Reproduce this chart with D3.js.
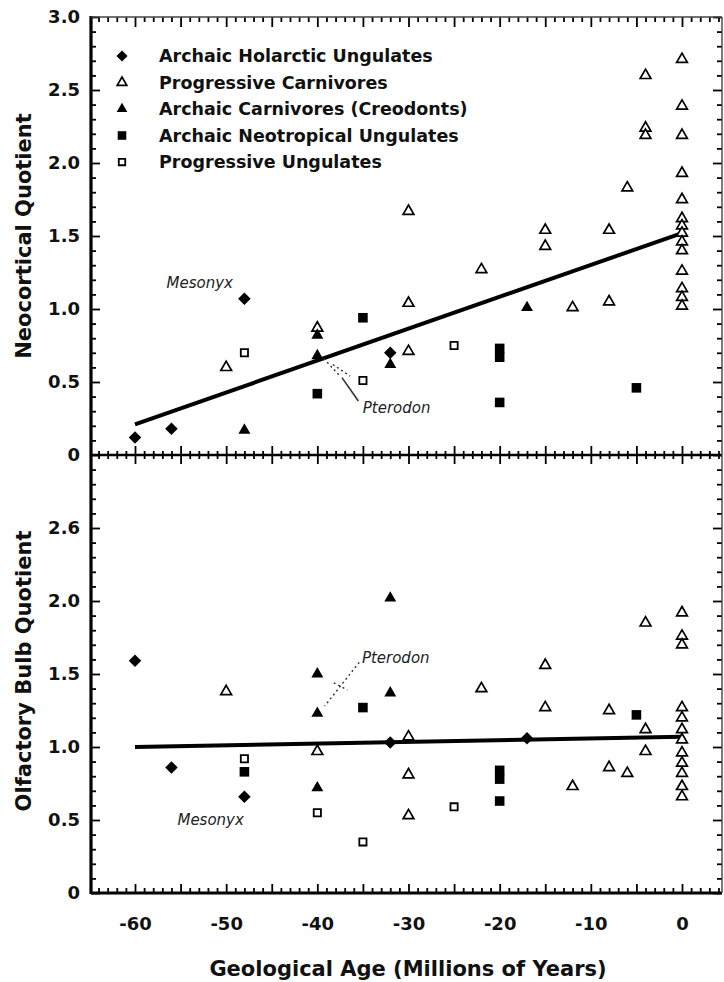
<!DOCTYPE html>
<html>
<head>
<meta charset="utf-8">
<script src="https://cdn.jsdelivr.net/npm/d3@7"></script>
<style>
  body { margin: 0; background: #fff; }
  svg { display: block; font-family: 'DejaVu Sans', sans-serif; font-weight: bold; }
</style>
</head>
<body>
<script>
// Data: [age in millions of years, quotient]
// Neocortical quotient (upper panel)
const holarcticNeo = [[-60, 0.12], [-56, 0.18], [-48, 1.07], [-32, 0.70]];
const progCarnNeo = [
  [-50, 0.60], [-40, 0.87], [-30, 1.67], [-30, 1.04], [-30, 0.71], [-22, 1.27],
  [-15, 1.54], [-15, 1.43], [-12, 1.01], [-8, 1.54], [-8, 1.05], [-6, 1.83],
  [-4, 2.60], [-4, 2.24], [-4, 2.19],
  [0, 2.71], [0, 2.39], [0, 2.19], [0, 1.93], [0, 1.75], [0, 1.62], [0, 1.57],
  [0, 1.52], [0, 1.46], [0, 1.40], [0, 1.26], [0, 1.14], [0, 1.08], [0, 1.02]
];
const archCarnNeo = [[-48, 0.17], [-40, 0.82], [-40, 0.68], [-32, 0.62], [-17, 1.01]];
const neotropNeo = [[-40, 0.42], [-35, 0.94], [-20, 0.73], [-20, 0.67], [-20, 0.36], [-5, 0.46]];
const progUngNeo = [[-48, 0.70], [-35, 0.51], [-25, 0.75]];
const fitNeo = [[-60, 0.21], [0, 1.52]];

// Olfactory bulb quotient (lower panel)
const holarcticOlf = [[-60, 1.59], [-56, 0.86], [-48, 0.66], [-32, 1.03], [-17, 1.06]];
const progCarnOlf = [
  [-50, 1.38], [-40, 0.97], [-30, 1.07], [-30, 0.81], [-30, 0.53], [-22, 1.40],
  [-15, 1.56], [-15, 1.27], [-12, 0.73], [-8, 1.25], [-8, 0.86], [-6, 0.82],
  [-4, 1.85], [-4, 1.12], [-4, 0.97],
  [0, 1.92], [0, 1.76], [0, 1.70], [0, 1.27], [0, 1.20], [0, 1.12], [0, 1.05],
  [0, 0.96], [0, 0.89], [0, 0.82], [0, 0.73], [0, 0.66]
];
const archCarnOlf = [[-40, 1.50], [-40, 1.23], [-40, 0.72], [-32, 2.02], [-32, 1.37]];
const neotropOlf = [[-48, 0.83], [-35, 1.27], [-20, 0.84], [-20, 0.78], [-20, 0.63], [-5, 1.22]];
const progUngOlf = [[-48, 0.92], [-40, 0.55], [-35, 0.35], [-25, 0.59]];
const fitOlf = [[-60, 1.00], [0, 1.07]];

const legendNames = [
  'Archaic Holarctic Ungulates',
  'Progressive Carnivores',
  'Archaic Carnivores (Creodonts)',
  'Archaic Neotropical Ungulates',
  'Progressive Ungulates'
];
const xTickValues = [-60, -50, -40, -30, -20, -10, 0];
const xTickLabels = ['-60', '-50', '-40', '-30', '-20', '-10', '0'];
const neoTickValues = [0, 0.5, 1, 1.5, 2, 2.5, 3];
const neoTickLabels = ['0', '0.5', '1.0', '1.5', '2.0', '2.5', '3.0'];
const olfTickValues = [0, 0.5, 1, 1.5, 2, 2.5];
const olfTickLabels = ['0', '0.5', '1.0', '1.5', '2.0', '2.6'];

// annotations, placed in data units
const notesNeo = [{text: 'Mesonyx', age: -52.9, val: 1.18}, {text: 'Pterodon', age: -31.3, val: 0.32}];
const notesOlf = [{text: 'Pterodon', age: -31.4, val: 1.61}, {text: 'Mesonyx', age: -51.7, val: 0.50}];

// ---- layout ----
const W = 724, H = 982;
const left = 91, right = 722;
const x = d3.scaleLinear().domain([-60, 0]).range([135, 682]);
const yNeo = d3.scaleLinear().domain([0, 3]).range([455, 17]);
const yOlf = d3.scaleLinear().domain([0, 3]).range([893, 455]);

const svg = d3.select('body').append('svg')
  .attr('width', W)
  .attr('height', H);

const shapes = [
  {type: d3.symbolSquare, size: 78, fill: '#000', sw: 0, rot: 45},
  {type: d3.symbolTriangle, size: 50, fill: '#fff', sw: 1.7, rot: 0},
  {type: d3.symbolTriangle, size: 62, fill: '#000', sw: 0, rot: 0},
  {type: d3.symbolSquare, size: 92, fill: '#000', sw: 0, rot: 0},
  {type: d3.symbolSquare, size: 52, fill: '#fff', sw: 1.8, rot: 0}
];

function drawMarkers(g, data, shape, y) {
  g.selectAll(null)
    .data(data)
    .enter().append('path')
    .attr('d', d3.symbol().type(shape.type).size(shape.size))
    .attr('transform', d => 'translate(' + x(d[0]) + ',' + y(d[1]) + ') rotate(' + shape.rot + ')')
    .attr('fill', shape.fill)
    .attr('stroke', '#000')
    .attr('stroke-width', shape.sw);
}

function drawPanel(y, series, fit, notes, leaders) {
  const g = svg.append('g');
  // regression line
  g.append('path')
    .attr('d', d3.line().x(d => x(d[0])).y(d => y(d[1]))(fit))
    .attr('stroke', '#000')
    .attr('stroke-width', 4)
    .attr('fill', 'none');
  series.forEach((s, i) => drawMarkers(g, s, shapes[i], y));
  // labels
  g.selectAll(null)
    .data(notes)
    .enter().append('text')
    .attr('x', d => x(d.age))
    .attr('y', d => y(d.val) + 5)
    .attr('text-anchor', 'middle')
    .attr('font-style', 'italic')
    .attr('font-weight', 'normal')
    .attr('font-size', 15)
    .attr('fill', '#222')
    .text(d => d.text);
  g.selectAll(null)
    .data(leaders)
    .enter().append('line')
    .attr('x1', d => x(d[0])).attr('y1', d => y(d[1]))
    .attr('x2', d => x(d[2])).attr('y2', d => y(d[3]))
    .attr('stroke', '#333')
    .attr('stroke-width', d => d[4] ? 1.6 : 1.4)
    .attr('stroke-dasharray', d => d[4] ? null : '2,3');
}

const leadersNeo = [
  [-39.3, 0.66, -37.5, 0.54, false],
  [-38.3, 0.62, -36.4, 0.54, false],
  [-37.3, 0.53, -35.5, 0.37, true]
];
const leadersOlf = [
  [-35.4, 1.58, -39.2, 1.28, false],
  [-38.2, 1.44, -36.7, 1.39, false]
];

drawPanel(yNeo, [holarcticNeo, progCarnNeo, archCarnNeo, neotropNeo, progUngNeo], fitNeo, notesNeo, leadersNeo);
drawPanel(yOlf, [holarcticOlf, progCarnOlf, archCarnOlf, neotropOlf, progUngOlf], fitOlf, notesOlf, leadersOlf);

// ---- axes ----
const xMajor = d3.range(-60, 5, 5);
const xMinor = d3.range(-64, 5, 1).filter(v => v % 5 !== 0);
const yMinor = d3.range(0, 30, 1).filter(v => v % 5 !== 0).map(v => v / 10);

function noDomain(sel) { sel.select('.domain').remove(); }

function tickAxis(axis, tx, ty) {
  const g = svg.append('g')
    .attr('transform', 'translate(' + tx + ',' + ty + ')')
    .call(axis)
    .call(noDomain);
  g.selectAll('line').attr('stroke', '#000').attr('stroke-width', 1.8);
  return g;
}

// left axes with labels
[[yNeo, neoTickValues, neoTickLabels], [yOlf, olfTickValues, olfTickLabels]].forEach(([y, vals, labels]) => {
  const g = tickAxis(d3.axisLeft(y).tickValues(vals).tickFormat((d, i) => labels[i]).tickSize(-9).tickPadding(11), left, 0);
  g.selectAll('text').attr('font-size', 18).attr('font-family', 'DejaVu Sans').attr('fill', '#111');
  tickAxis(d3.axisLeft(y).tickValues(yMinor).tickFormat('').tickSize(-5), left, 0);
  tickAxis(d3.axisRight(y).tickValues(vals).tickFormat('').tickSize(-9), right, 0);
  tickAxis(d3.axisRight(y).tickValues(yMinor).tickFormat('').tickSize(-5), right, 0);
});

// top frame ticks (pointing down)
tickAxis(d3.axisTop(x).tickValues(xMajor).tickFormat('').tickSize(-10), 0, 17);
tickAxis(d3.axisTop(x).tickValues(xMinor).tickFormat('').tickSize(-5), 0, 17);
// shared middle axis, ticks crossing
tickAxis(d3.axisTop(x).tickValues(xMajor).tickFormat('').tickSize(9), 0, 455);
tickAxis(d3.axisBottom(x).tickValues(xMajor).tickFormat('').tickSize(9), 0, 455);
tickAxis(d3.axisTop(x).tickValues(xMinor).tickFormat('').tickSize(4), 0, 455);
tickAxis(d3.axisBottom(x).tickValues(xMinor).tickFormat('').tickSize(4), 0, 455);
// bottom axis, ticks up
tickAxis(d3.axisBottom(x).tickValues(xMajor).tickFormat('').tickSize(-9), 0, 893);
tickAxis(d3.axisBottom(x).tickValues(xMinor).tickFormat('').tickSize(-5), 0, 893);
const xl = tickAxis(d3.axisBottom(x).tickValues(xTickValues).tickFormat((d, i) => xTickLabels[i]).tickSize(0).tickPadding(24), 0, 893);
xl.selectAll('text').attr('font-size', 18).attr('font-family', 'DejaVu Sans').attr('fill', '#111');

// axis lines
const frame = svg.append('g').attr('stroke', '#000').attr('fill', 'none');
frame.append('line').attr('x1', left).attr('x2', left).attr('y1', 16).attr('y2', 894).attr('stroke-width', 3.2);
frame.append('line').attr('x1', left).attr('x2', right).attr('y1', 455).attr('y2', 455).attr('stroke-width', 2.6);
frame.append('line').attr('x1', left).attr('x2', right).attr('y1', 893).attr('y2', 893).attr('stroke-width', 3);
frame.append('line').attr('x1', left).attr('x2', right).attr('y1', 17).attr('y2', 17).attr('stroke-width', 1.6).attr('stroke', '#444');
frame.append('line').attr('x1', right).attr('x2', right).attr('y1', 17).attr('y2', 893).attr('stroke-width', 1.4).attr('stroke', '#444');

// ---- axis titles ----
svg.append('text')
  .attr('x', 408).attr('y', 976)
  .attr('text-anchor', 'middle')
  .attr('font-size', 21)
  .attr('fill', '#111')
  .text('Geological Age (Millions of Years)');
svg.append('text')
  .attr('transform', 'translate(31,236) rotate(-90)')
  .attr('text-anchor', 'middle')
  .attr('font-size', 21)
  .attr('fill', '#111')
  .text('Neocortical Quotient');
svg.append('text')
  .attr('transform', 'translate(31,671) rotate(-90)')
  .attr('text-anchor', 'middle')
  .attr('font-size', 21)
  .attr('fill', '#111')
  .text('Olfactory Bulb Quotient');

// ---- legend ----
const legend = svg.append('g');
const rowY = d3.scalePoint().domain(legendNames).range([56, 162]);
legendNames.forEach((name, i) => {
  const s = shapes[i];
  legend.append('path')
    .attr('d', d3.symbol().type(s.type).size(s.size * 0.8))
    .attr('transform', 'translate(122,' + rowY(name) + ') rotate(' + s.rot + ')')
    .attr('fill', s.fill)
    .attr('stroke', '#000')
    .attr('stroke-width', s.sw);
  legend.append('text')
    .attr('x', 159)
    .attr('y', rowY(name) + 6)
    .attr('font-size', 17.5)
    .attr('fill', '#111')
    .text(name);
});
</script>
</body>
</html>
